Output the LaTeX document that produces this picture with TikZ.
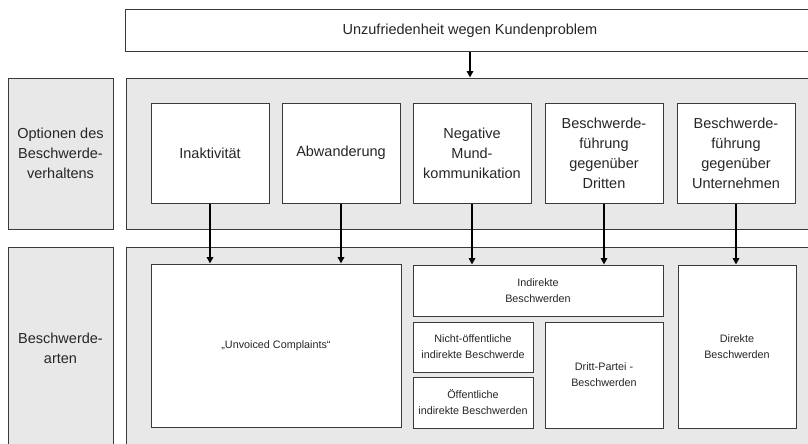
\documentclass[tikz,border=0pt]{standalone}
\usepackage{fontspec}
\setmainfont{Liberation Sans}
\usetikzlibrary{arrows.meta}
\definecolor{panelgray}{HTML}{E8E8E8}
\definecolor{framegray}{HTML}{3A3A3A}
\newcommand{\boxfont}{\fontsize{14.5}{20}\selectfont}
\newcommand{\smallboxfont}{\fontsize{10.8}{16}\selectfont}
\tikzset{
	panel/.style={draw=framegray,fill=panelgray,line width=1pt,inner sep=0pt},
	optbox/.style={draw=framegray,fill=white,line width=1pt,inner sep=0pt,align=center,font=\boxfont,text=black!85},
	artbox/.style={draw=framegray,fill=white,line width=1pt,inner sep=0pt,align=center,font=\smallboxfont,text=black!85},
	flow/.style={line width=1.9pt,-{Triangle[length=6.5pt,width=6.5pt]}}
}
\begin{document}
\begin{tikzpicture}[x=1pt,y=-1pt]
		\useasboundingbox (0,0) rectangle (808,444);
		\clip (0,0) rectangle (808,444);
		% rows
		\draw (470,31) node[optbox,minimum width=690pt,minimum height=42pt] (prob) {Unzufriedenheit wegen Kundenproblem};
		\draw (60.5,153.5) node[panel,optbox,fill=panelgray,minimum width=105pt,minimum height=151pt] (optlabel) {Optionen des\\Beschwerde-\\verhaltens};
		\draw (470.5,153.5) node[panel,minimum width=689pt,minimum height=151pt] (optpanel) {};
		\draw (60.5,348) node[panel,optbox,fill=panelgray,minimum width=105pt,minimum height=202pt] (artlabel) {Beschwerde-\\arten};
		\draw (470.5,348) node[panel,minimum width=689pt,minimum height=202pt] (artpanel) {};
		% options
		\draw (210,153) node[optbox,minimum width=118pt,minimum height=100pt] (ina) {Inaktivität};
		\draw (341,153) node[optbox,minimum width=118pt,minimum height=100pt] (abw) {Abwanderung};
		\draw (472,153) node[optbox,minimum width=118pt,minimum height=100pt] (mund) {Negative\\Mund-\\kommunikation};
		\draw (604,153) node[optbox,minimum width=118pt,minimum height=100pt] (dritt) {Beschwerde-\\führung\\gegenüber\\Dritten};
		\draw (736,153) node[optbox,minimum width=118pt,minimum height=100pt] (unt) {Beschwerde-\\führung\\gegenüber\\Unternehmen};
		% complaint types
		\draw (276,345.5) node[artbox,minimum width=250pt,minimum height=163pt] (unv) {„Unvoiced Complaints“};
		\draw (538,290.5) node[artbox,minimum width=250pt,minimum height=51pt] (ind) {Indirekte\\Beschwerden};
		\draw (473,347) node[artbox,minimum width=120pt,minimum height=50pt] (nicht) {Nicht-öffentliche\\indirekte Beschwerde};
		\draw (473,402.5) node[artbox,minimum width=120pt,minimum height=51pt] (oeff) {Öffentliche\\indirekte Beschwerden};
		\draw (604,375) node[artbox,minimum width=118pt,minimum height=106pt] (partei) {Dritt-Partei -\\Beschwerden};
		\draw (737,346.5) node[artbox,minimum width=118pt,minimum height=163pt] (dir) {Direkte\\Beschwerden};
		% arrows
		\draw[flow] (prob.south) -- (prob.south |- optpanel.north);
		\draw[flow] (ina.south) -- (ina.south |- unv.north);
		\draw[flow] (abw.south) -- (abw.south |- unv.north);
		\draw[flow] (mund.south) -- (mund.south |- ind.north);
		\draw[flow] (dritt.south) -- (dritt.south |- ind.north);
		\draw[flow] (unt.south) -- (unt.south |- dir.north);
	\end{tikzpicture}
\end{document}
